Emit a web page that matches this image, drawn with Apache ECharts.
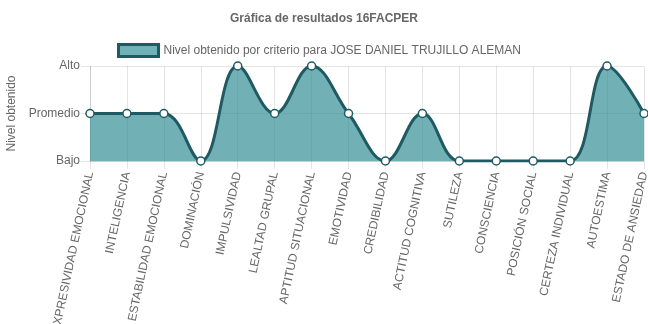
<!DOCTYPE html>
<html><head><meta charset="utf-8">
<script src="https://cdn.jsdelivr.net/npm/echarts@6/dist/echarts.min.js"></script>
<style>html,body{margin:0;padding:0;background:#fff}#c{width:648px;height:324px}</style>
</head><body><div id="c"></div>
<script>
const categories = ["EXPRESIVIDAD EMOCIONAL","INTELIGENCIA","ESTABILIDAD EMOCIONAL","DOMINACIÓN","IMPULSIVIDAD","LEALTAD GRUPAL","APTITUD SITUACIONAL","EMOTIVIDAD","CREDIBILIDAD","ACTITUD COGNITIVA","SUTILEZA","CONSCIENCIA","POSICIÓN SOCIAL","CERTEZA INDIVIDUAL","AUTOESTIMA","ESTADO DE ANSIEDAD"];
const values = [2,2,2,1,3,2,3,2,1,2,1,1,1,1,3,2];
const levelLabels = {1:"Bajo",2:"Promedio",3:"Alto"};
const seriesName = "Nivel obtenido por criterio para JOSE DANIEL TRUJILLO ALEMAN";
const titleText = "Gráfica de resultados 16FACPER";
const yName = "Nivel obtenido";

const font = "'Liberation Sans', Arial, sans-serif";
const grey = "#666";
const gridColor = "rgba(0,0,0,0.1)";
const chart = echarts.init(document.getElementById('c'), null, {renderer:'canvas'});
chart.setOption({
  animation:false,
  title:{text:titleText,left:'center',top:8,textStyle:{fontFamily:font,fontSize:12,fontWeight:'bold',color:grey}},
  legend:{top:38,left:112,icon:'rect',itemWidth:40,itemHeight:12,itemGap:7,
    itemStyle:{color:'#70b3b7',borderColor:'#1f5a63',borderWidth:3},
    textStyle:{fontFamily:font,fontSize:12,color:grey},
    data:[seriesName]},
  grid:{left:90,right:4,top:66,bottom:163,containLabel:false,outerBoundsMode:'none'},
  xAxis:{type:'category',data:categories,boundaryGap:false,
    axisLine:{show:true,lineStyle:{color:gridColor}},
    axisTick:{show:true,length:8,lineStyle:{color:gridColor}},
    splitLine:{show:true,lineStyle:{color:gridColor}},
    axisLabel:{rotate:78,interval:0,margin:11,fontFamily:font,fontSize:12,color:grey}},
  yAxis:{type:'value',min:1,max:3,interval:1,
    name:yName,nameLocation:'middle',nameGap:71,nameRotate:90,
    nameTextStyle:{fontFamily:font,fontSize:12,color:grey},
    axisLine:{show:true,lineStyle:{color:gridColor}},
    axisTick:{show:true,length:9,lineStyle:{color:gridColor}},
    splitLine:{show:true,lineStyle:{color:gridColor}},
    axisLabel:{margin:10,fontFamily:font,fontSize:12,color:grey,formatter:v=>levelLabels[v]||''}},
  series:[{name:seriesName,type:'line',data:values,smooth:0.4,
    symbol:'circle',symbolSize:8,
    itemStyle:{color:'#ffffff',borderColor:'#1f5a63',borderWidth:1.5},
    lineStyle:{color:'#1f5a63',width:3},
    areaStyle:{color:'rgba(45,140,146,0.68)',opacity:1,origin:'start'},
    z:3}]
});
</script></body></html>
